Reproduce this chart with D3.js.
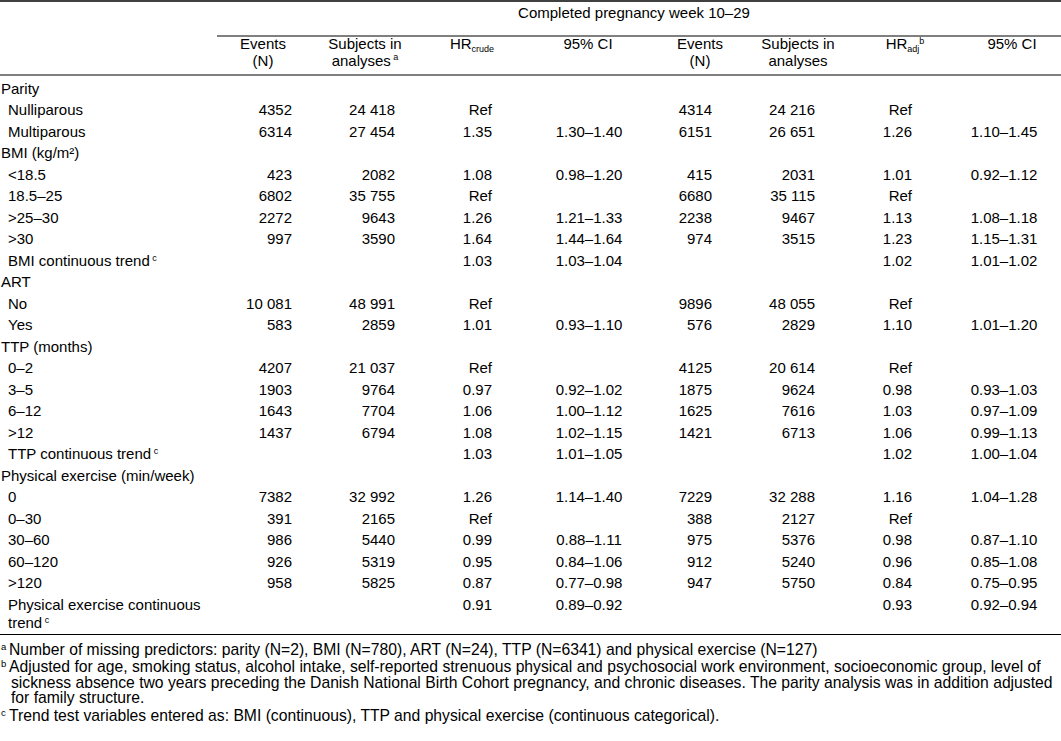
<!DOCTYPE html>
<html>
<head>
<meta charset="utf-8">
<script src="https://cdn.jsdelivr.net/npm/d3@7"></script>
<style>
  body { margin: 0; background: #fff; }
  svg text { font-family: "Liberation Sans", Arial, sans-serif; font-size: 15px; fill: #000; }
</style>
</head>
<body>
<div id="table"></div>
<script>
// row labels, group headings have no values
const rowLabels = ["Parity", "Nulliparous", "Multiparous",
  "BMI (kg/m²)", "<18.5", "18.5–25", ">25–30", ">30", "BMI continuous trend",
  "ART", "No", "Yes",
  "TTP (months)", "0–2", "3–5", "6–12", ">12", "TTP continuous trend",
  "Physical exercise (min/week)", "0", "0–30", "30–60", "60–120", ">120", "Physical exercise continuous\ntrend"];
const groupLabels = ["Parity", "BMI (kg/m²)", "ART", "TTP (months)", "Physical exercise (min/week)"];
const labelNotes = ["", "", "", "", "", "", "", "", "c", "", "", "", "", "", "", "", "", "c",
  "", "", "", "", "", "", "c"];

// crude analysis
const eventsCrude = ["", "4352", "6314", "", "423", "6802", "2272", "997", "", "", "10 081", "583",
  "", "4207", "1903", "1643", "1437", "", "", "7382", "391", "986", "926", "958", ""];
const subjectsCrude = ["", "24 418", "27 454", "", "2082", "35 755", "9643", "3590", "", "", "48 991", "2859",
  "", "21 037", "9764", "7704", "6794", "", "", "32 992", "2165", "5440", "5319", "5825", ""];
const hrCrude = ["", "Ref", "1.35", "", "1.08", "Ref", "1.26", "1.64", "1.03", "", "Ref", "1.01",
  "", "Ref", "0.97", "1.06", "1.08", "1.03", "", "1.26", "Ref", "0.99", "0.95", "0.87", "0.91"];
const ciCrude = ["", "", "1.30–1.40", "", "0.98–1.20", "", "1.21–1.33", "1.44–1.64", "1.03–1.04", "", "", "0.93–1.10",
  "", "", "0.92–1.02", "1.00–1.12", "1.02–1.15", "1.01–1.05", "", "1.14–1.40", "", "0.88–1.11", "0.84–1.06", "0.77–0.98", "0.89–0.92"];

// adjusted analysis
const eventsAdj = ["", "4314", "6151", "", "415", "6680", "2238", "974", "", "", "9896", "576",
  "", "4125", "1875", "1625", "1421", "", "", "7229", "388", "975", "912", "947", ""];
const subjectsAdj = ["", "24 216", "26 651", "", "2031", "35 115", "9467", "3515", "", "", "48 055", "2829",
  "", "20 614", "9624", "7616", "6713", "", "", "32 288", "2127", "5376", "5240", "5750", ""];
const hrAdj = ["", "Ref", "1.26", "", "1.01", "Ref", "1.13", "1.23", "1.02", "", "Ref", "1.10",
  "", "Ref", "0.98", "1.03", "1.06", "1.02", "", "1.16", "Ref", "0.98", "0.96", "0.84", "0.93"];
const ciAdj = ["", "", "1.10–1.45", "", "0.92–1.12", "", "1.08–1.18", "1.15–1.31", "1.01–1.02", "", "", "1.01–1.20",
  "", "", "0.93–1.03", "0.97–1.09", "0.99–1.13", "1.00–1.04", "", "1.04–1.28", "", "0.87–1.10", "0.85–1.08", "0.75–0.95", "0.92–0.94"];

const spanTitle = "Completed pregnancy week 10–29";
const footnotes = [
  ["a", ["Number of missing predictors: parity (N=2), BMI (N=780), ART (N=24), TTP (N=6341) and physical exercise (N=127)"]],
  ["b", ["Adjusted for age, smoking status, alcohol intake, self-reported strenuous physical and psychosocial work environment, socioeconomic group, level of",
         "sickness absence two years preceding the Danish National Birth Cohort pregnancy, and chronic diseases. The parity analysis was in addition adjusted",
         "for family structure."]],
  ["c", ["Trend test variables entered as: BMI (continuous), TTP and physical exercise (continuous categorical)."]]
];

const columns = ["eventsCrude", "subjectsCrude", "hrCrude", "ciCrude", "eventsAdj", "subjectsAdj", "hrAdj", "ciAdj"];
const values = [eventsCrude, subjectsCrude, hrCrude, ciCrude, eventsAdj, subjectsAdj, hrAdj, ciAdj];

const width = 1061, height = 741;

// value anchor per column (right edge, CI columns are centred)
const xVal = d3.scaleOrdinal().domain(columns).range([292, 395, 492, 589, 712, 815, 912, 1004]);
const xHead = d3.scaleOrdinal().domain(columns).range([263, 365, 472, 588, 700, 798, 905, 1012]);
const isCI = c => c.startsWith("ci");

// rows
const y = d3.scaleLinear().domain([0, rowLabels.length - 1]).range([94, 609.5]);

const svg = d3.select("#table").append("svg")
    .attr("width", width)
    .attr("height", height);

// rules
const rule = (x1, x2, yy, w) => svg.append("line")
    .attr("x1", x1).attr("x2", x2).attr("y1", yy).attr("y2", yy)
    .attr("stroke", "#000").attr("stroke-width", w);
rule(0, width, 1, 1.4);
rule(217, width, 36, 1);
rule(0, width, 75, 1);
rule(0, width, 634.5, 1);

// spanning title
svg.append("text")
    .attr("x", 634)
    .attr("y", 18)
    .attr("text-anchor", "middle")
    .text(spanTitle);

// column headings
const head = svg.append("g").attr("text-anchor", "middle");
function twoLine(c, l1, l2, sup) {
  const t = head.append("text").attr("x", xHead(c)).attr("y", 48.5);
  t.append("tspan").text(l1);
  const t2 = head.append("text").attr("x", xHead(c)).attr("y", 65.5);
  t2.append("tspan").text(l2);
  if (sup) t2.append("tspan").attr("font-size", 9).attr("dy", -6).text(" " + sup);
}
twoLine("eventsCrude", "Events", "(N)");
twoLine("subjectsCrude", "Subjects in", "analyses", "a");
twoLine("eventsAdj", "Events", "(N)");
twoLine("subjectsAdj", "Subjects in", "analyses");

const hr1 = head.append("text").attr("x", xHead("hrCrude")).attr("y", 48.5);
hr1.append("tspan").text("HR");
hr1.append("tspan").attr("font-size", 9).attr("dy", 3).text("crude");

const hr2 = head.append("text").attr("x", xHead("hrAdj")).attr("y", 48.5);
hr2.append("tspan").text("HR");
hr2.append("tspan").attr("font-size", 9).attr("dy", 3).text("adj");
hr2.append("tspan").attr("font-size", 9).attr("dy", -8).text("b");

head.append("text").attr("x", xHead("ciCrude")).attr("y", 48.5).text("95% CI");
head.append("text").attr("x", xHead("ciAdj")).attr("y", 48.5).text("95% CI");

// row labels
const lab = svg.append("g").selectAll("text")
  .data(rowLabels)
  .join("text")
    .attr("x", d => groupLabels.includes(d) ? 1 : 8)
    .attr("y", (d, i) => y(i));

lab.each(function(d, i) {
  const parts = d.split("\n");
  const t = d3.select(this);
  parts.forEach((p, k) => {
    const s = t.append("tspan").text(p);
    if (k > 0) s.attr("x", 8).attr("dy", 18);
  });
  if (labelNotes[i]) t.append("tspan").attr("font-size", 9).attr("dy", -5).text(" " + labelNotes[i]);
});

// value cells
columns.forEach((c, ci) => {
  svg.append("g")
      .attr("text-anchor", isCI(c) ? "middle" : "end")
    .selectAll("text")
    .data(values[ci])
    .join("text")
      .attr("x", xVal(c))
      .attr("y", (d, i) => y(i))
      .text(d => d);
});

// footnotes
let fy = 654.5;
footnotes.forEach(([mark, lines]) => {
  svg.append("text")
      .attr("x", 1)
      .attr("y", fy - 5)
      .style("font-size", "9.5px")
      .text(mark);
  lines.forEach((l, k) => {
    svg.append("text")
        .attr("x", k == 0 ? 9 : 11)
        .attr("y", fy)
        .style("font-size", "15.7px")
        .text(l);
    fy += k < lines.length - 1 ? 15.5 : 0;
  });
  fy += 17.5;
});
</script>
</body>
</html>
